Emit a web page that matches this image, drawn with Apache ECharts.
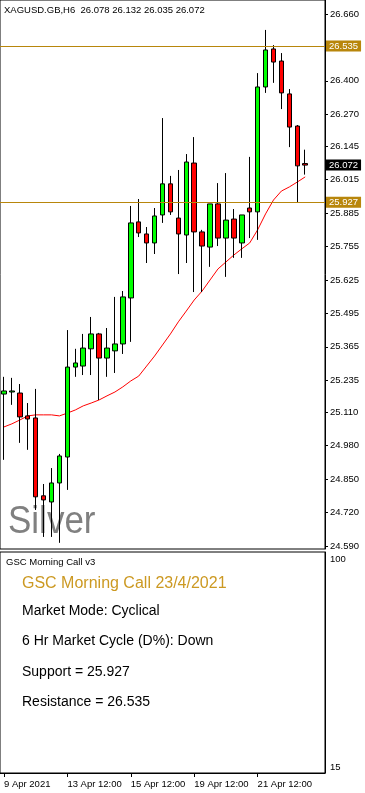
<!DOCTYPE html>
<html><head><meta charset="utf-8">
<script src="https://cdn.jsdelivr.net/npm/echarts@6/dist/echarts.min.js"></script>
<style>html,body{margin:0;padding:0;background:#fff}#c{width:365px;height:793px}</style>
</head><body><div id="c"></div>
<script>
const symbolName = 'XAGUSD.GB,H6';
const times = [
 '2021-04-09 12:00','2021-04-09 18:00','2021-04-12 00:00','2021-04-12 06:00','2021-04-12 12:00','2021-04-12 18:00',
 '2021-04-13 00:00','2021-04-13 06:00','2021-04-13 12:00','2021-04-13 18:00','2021-04-14 00:00','2021-04-14 06:00',
 '2021-04-14 12:00','2021-04-14 18:00','2021-04-15 00:00','2021-04-15 06:00','2021-04-15 12:00','2021-04-15 18:00',
 '2021-04-16 00:00','2021-04-16 06:00','2021-04-16 12:00','2021-04-16 18:00','2021-04-19 00:00','2021-04-19 06:00',
 '2021-04-19 12:00','2021-04-19 18:00','2021-04-20 00:00','2021-04-20 06:00','2021-04-20 12:00','2021-04-20 18:00',
 '2021-04-21 00:00','2021-04-21 06:00','2021-04-21 12:00','2021-04-21 18:00','2021-04-22 00:00','2021-04-22 06:00',
 '2021-04-22 12:00','2021-04-22 18:00','2021-04-23 00:00','2021-04-23 06:00','2021-04-23 12:00'
];
const openV  = [25.181,25.189,25.185,25.096,25.088,24.785,24.761,24.835,24.936,25.286,25.290,25.357,25.415,25.321,25.349,25.376,25.555,25.851,25.804,25.769,25.878,25.999,25.866,25.800,26.080,25.812,25.753,25.921,25.788,25.862,25.769,25.905,25.890,26.376,26.524,26.477,26.349,26.224,26.078];
const highV  = [25.248,25.244,25.220,25.146,25.201,24.831,24.893,24.948,25.430,25.357,25.415,25.481,25.419,25.438,25.559,25.582,25.913,25.940,25.831,25.905,26.255,26.030,26.053,26.115,26.181,25.820,25.921,26.002,26.041,25.901,25.878,26.104,26.430,26.598,26.539,26.508,26.368,26.228,26.132];
const lowV   = [24.925,25.139,24.991,24.964,24.730,24.625,24.625,24.602,24.808,25.248,25.255,25.255,25.158,25.248,25.263,25.337,25.384,25.792,25.691,25.726,25.847,25.878,25.648,25.691,25.578,25.578,25.676,25.757,25.637,25.711,25.711,25.788,25.781,26.353,26.392,26.290,26.142,25.928,26.035];
const closeV = [25.193,25.193,25.092,25.084,24.781,24.769,24.835,24.940,25.286,25.302,25.360,25.415,25.321,25.360,25.376,25.559,25.847,25.808,25.769,25.874,25.999,25.890,25.804,26.084,25.812,25.757,25.921,25.788,25.858,25.788,25.878,25.890,26.376,26.520,26.473,26.353,26.220,26.069,26.072];
const maV    = [25.053,25.065,25.080,25.096,25.100,25.100,25.100,25.096,25.107,25.119,25.135,25.146,25.158,25.174,25.189,25.209,25.232,25.251,25.290,25.329,25.372,25.415,25.462,25.504,25.547,25.582,25.625,25.668,25.695,25.722,25.746,25.769,25.820,25.882,25.936,25.971,25.987,26.006,26.026];
const priceTicks = [26.660,26.400,26.270,26.145,26.015,25.885,25.755,25.625,25.495,25.365,25.235,25.110,24.980,24.850,24.720,24.590];
const supportLevel = 25.927;
const resistanceLevel = 26.535;
const xTickIdx = [0,8,16,24,32];
const xTickText = ['9 Apr 2021','13 Apr 12:00','15 Apr 12:00','19 Apr 12:00','21 Apr 12:00'];
const panelTicks = [15,100];
const panelName = 'GSC Morning Call v3';
const panelTitle = 'GSC Morning Call 23/4/2021';
const panelLines = ['Market Mode: Cyclical','6 Hr Market Cycle (D%): Down','Support = 25.927','Resistance = 26.535'];
const watermark = 'Silver';

const FF = '"Liberation Sans", Arial, sans-serif';
const last = openV.length - 1;
const header = symbolName + '  ' + [openV[last], highV[last], lowV[last], closeV[last]].map(v => v.toFixed(3)).join(' ');
const candles = openV.map((o, i) => [o, closeV[i], lowV[i], highV[i]]);
const gold = '#B8860B';

const chart = echarts.init(document.getElementById('c'), null, {renderer: 'canvas'});
const lineYs = [611, 641, 672, 702];
const graphics = [
  {type:'text', x:4, y:10.5, z:10, style:{text:header, font:'9.5px ' + FF, fill:'#000', verticalAlign:'middle'}},
  {type:'text', x:8, y:522, z:0, scaleY:1.12, style:{text:watermark, font:'35px ' + FF, fill:'#808080', verticalAlign:'middle'}},
  {type:'text', x:6, y:562, z:10, style:{text:panelName, font:'9.5px ' + FF, fill:'#000', verticalAlign:'middle'}},
  {type:'text', x:22, y:584, z:10, style:{text:panelTitle, font:'16px ' + FF, fill:'#CC9922', verticalAlign:'middle'}}
].concat(panelLines.map((t, k) => ({type:'text', x:22, y:lineYs[k], z:10, style:{text:t, font:'14px ' + FF, fill:'#000', verticalAlign:'middle'}})));

const lblStyle = {show:true, position:'end', distance:1, fontFamily:FF, fontSize:9.5, color:'#fff', padding:[1,3,0,3], formatter: p => Number(p.value).toFixed(3)};

chart.setOption({
  animation:false,
  backgroundColor:'#fff',
  textStyle:{fontFamily:FF},
  grid:[
    {left:0, top:0, width:325, height:549, show:true, borderColor:'#000', borderWidth:1, backgroundColor:'transparent'},
    {left:0, top:552, width:325, height:221, show:true, borderColor:'#000', borderWidth:1, backgroundColor:'transparent'}
  ],
  xAxis:[
    {type:'category', gridIndex:0, data:times, boundaryGap:true, show:false},
    {type:'category', gridIndex:1, data:times, boundaryGap:true, position:'bottom',
     axisLine:{show:true, lineStyle:{color:'#000'}},
     axisTick:{show:true, alignWithLabel:true, length:4, inside:false, lineStyle:{color:'#000'}, interval:(i) => xTickIdx.includes(i)},
     axisLabel:{show:true, interval:(i) => xTickIdx.includes(i), align:'left', margin:6, fontSize:9.5, color:'#000', fontFamily:FF,
       formatter:(v, i) => { const k = xTickIdx.indexOf(i); return k >= 0 ? xTickText[k] : ''; }},
     splitLine:{show:false}}
  ],
  yAxis:[
    {type:'value', gridIndex:0, position:'right', min:24.578, max:26.7145, scale:true,
     axisLine:{show:true, lineStyle:{color:'#000'}},
     axisTick:{show:true, length:3, inside:false, lineStyle:{color:'#000'}, customValues:priceTicks},
     axisLabel:{show:true, margin:5, fontSize:9.5, color:'#000', fontFamily:FF, customValues:priceTicks, formatter:v => v.toFixed(3)},
     splitLine:{show:false}},
    {type:'value', gridIndex:1, position:'right', min:12.75, max:103.06,
     axisLine:{show:true, lineStyle:{color:'#000'}},
     axisTick:{show:false},
     axisLabel:{show:true, margin:5, fontSize:9.5, color:'#000', fontFamily:FF, customValues:panelTicks, formatter:v => String(v)},
     splitLine:{show:false}}
  ],
  graphic:graphics,
  series:[
    {type:'line', xAxisIndex:0, yAxisIndex:0, data:maV, showSymbol:false, symbol:'none', z:3,
     lineStyle:{color:'#FF0000', width:1}, silent:true,
     markLine:{symbol:['none','none'], silent:true, animation:false, precision:3,
       lineStyle:{color:'transparent', width:1, type:'solid'},
       label:Object.assign({}, lblStyle, {backgroundColor:'#000'}),
       data:[{yAxis:closeV[last]}]}},
    {type:'candlestick', xAxisIndex:0, yAxisIndex:0, data:candles, barWidth:5, z:4,
     itemStyle:{color:'#00FF00', color0:'#FF0000', borderColor:'#000', borderColor0:'#000', borderWidth:1},
     markLine:{symbol:['none','none'], silent:true, animation:false, precision:3,
       lineStyle:{color:gold, width:1, type:'solid', opacity:1},
       label:Object.assign({}, lblStyle, {backgroundColor:gold}),
       data:[{yAxis:resistanceLevel}, {yAxis:supportLevel}]}}
  ]
});
</script>
</body></html>
